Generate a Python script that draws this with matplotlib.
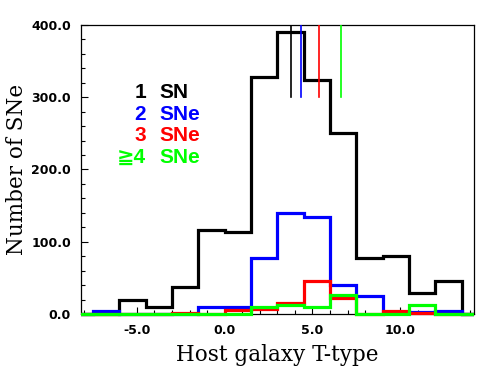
import numpy as np
import matplotlib
matplotlib.use("Agg")
import matplotlib.pyplot as plt
from matplotlib.ticker import MultipleLocator, FormatStrFormatter
from matplotlib.transforms import Bbox, TransformedBbox

# T-type bin edges (width 1.5), zero bins at both ends
edges = np.arange(-9.0, 15.01, 1.5)

n1 = [0, 0, 20, 10, 38, 116, 114, 328, 390, 324, 250, 78, 80, 29, 45, 0]
n2 = [0, 4, 0, 0, 0, 10, 10, 78, 140, 134, 40, 25, 3, 3, 4, 0]
n3 = [0, 0, 0, 0, 2, 0, 6, 7, 15, 46, 22, 0, 4, 1, 0, 0]
n4 = [0, 0, 0, 0, 0, 0, 0, 10, 12, 9, 26, 0, 0, 13, 0, 0]

# mean T-type of each group (marks at the top)
means = [3.76, 4.36, 5.40, 6.60]

numbers = ["1", "2", "3", "\u22674"]
words = ["SN", "SNe", "SNe", "SNe"]
colors = ["black", "#0000ff", "#ff0000", "#00ff00"]

fig = plt.figure(figsize=(4.91, 3.83), dpi=100)
ax = fig.add_axes([0.1643, 0.1802, 0.8011, 0.7545])

# clip only left/right so the zero lines show at full width
clip = TransformedBbox(Bbox([[0, -0.05], [1, 1.05]]), ax.transAxes)
for vals, c in zip([n1, n2, n3, n4], colors):
    st = ax.stairs(vals, edges, color=c, linewidth=2.3, joinstyle="miter", zorder=3)
    st.set_clip_path(None)
    st.set_clip_box(clip)

for m, c in zip(means, colors):
    ax.plot([m, m], [300, 400], color=c, linewidth=1.2, zorder=3)

ax.set_xlim(-8.2, 14.2)
ax.set_ylim(0, 400)

ax.xaxis.set_major_locator(MultipleLocator(5))
ax.xaxis.set_minor_locator(MultipleLocator(1))
ax.yaxis.set_major_locator(MultipleLocator(100))
ax.yaxis.set_minor_locator(MultipleLocator(20))
ax.xaxis.set_major_formatter(FormatStrFormatter("%.1f"))
ax.yaxis.set_major_formatter(FormatStrFormatter("%.1f"))
ax.tick_params(which="both", direction="in", top=False, right=False, width=0.8)
ax.tick_params(which="major", length=5, pad=7, labelsize=9)
ax.tick_params(which="minor", length=3)
for lab in ax.get_xticklabels() + ax.get_yticklabels():
    lab.set_fontweight("bold")
for sp in ax.spines.values():
    sp.set_linewidth(0.9)

ax.set_xlabel("Host galaxy T-type", family="DejaVu Serif", fontsize=15.5, labelpad=5)
ax.set_ylabel("Number of SNe", family="DejaVu Serif", fontsize=15.5, labelpad=2)

ys = [0.747, 0.673, 0.599, 0.524]
for num, w, c, y in zip(numbers, words, colors, ys):
    ax.text(0.166, y, num, transform=ax.transAxes, ha="right", va="baseline",
            color=c, fontsize=15, fontweight="bold",
            family=["Liberation Sans", "DejaVu Sans"])
    ax.text(0.200, y, w, transform=ax.transAxes, ha="left", va="baseline",
            color=c, fontsize=15, fontweight="bold",
            family=["Liberation Sans", "DejaVu Sans"])

fig.savefig("out.png", dpi=100)
